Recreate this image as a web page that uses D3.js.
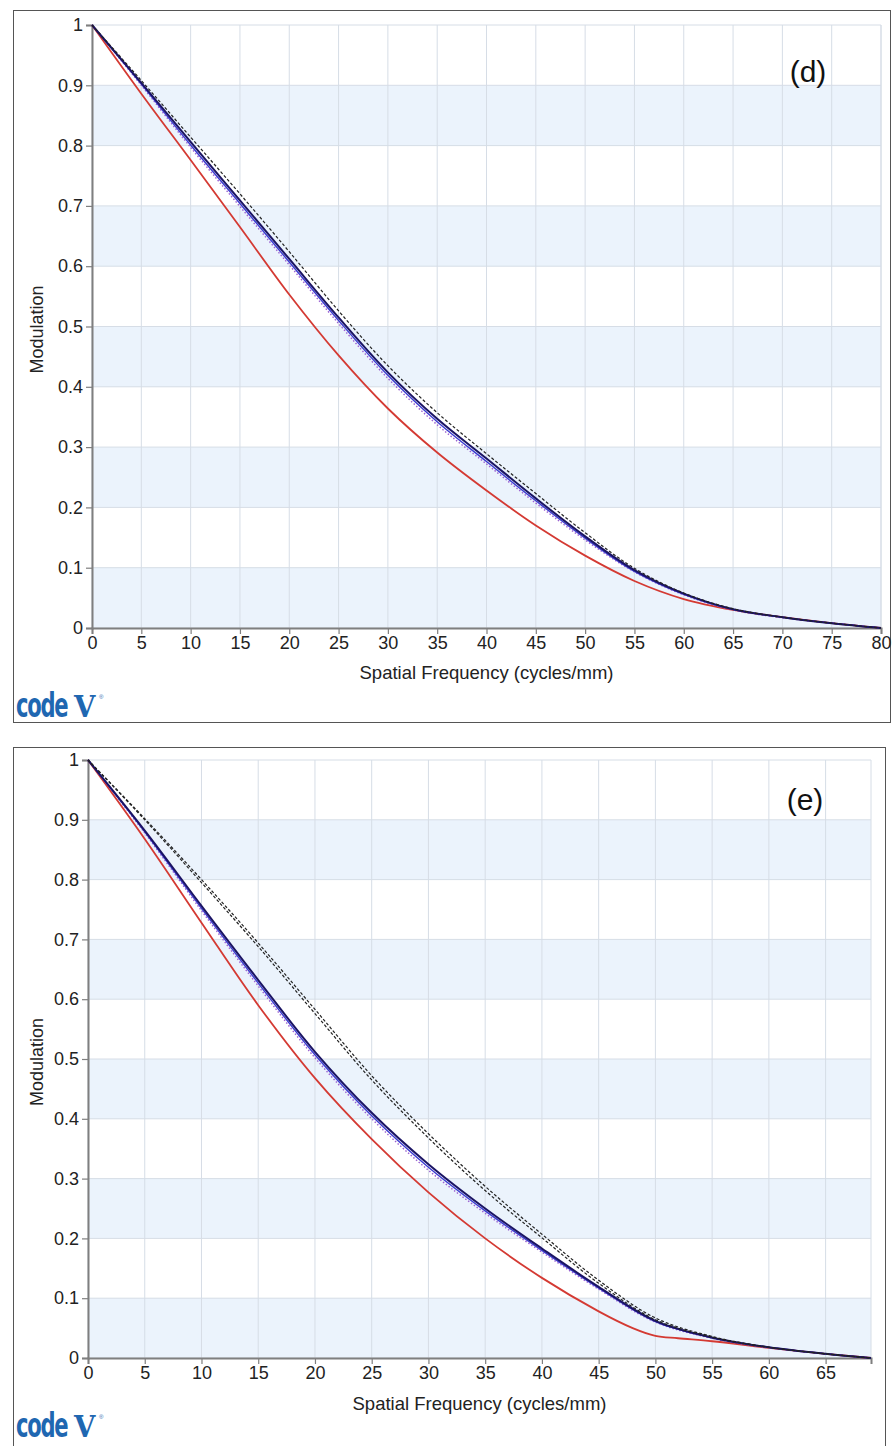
<!DOCTYPE html>
<html>
<head>
<meta charset="utf-8">
<script src="https://cdn.jsdelivr.net/npm/d3@7"></script>
<style>
  body { margin: 0; background: #fff; }
  svg { display: block; font-family: "Liberation Sans", Arial, sans-serif; }
</style>
</head>
<body>
<svg id="chart" width="892" height="1446"></svg>
<script>
// panel (d) data
let dFreq = [0, 5, 10, 15, 20, 25, 30, 35, 40, 45, 50, 55, 60, 65, 70, 75, 80];
let dDashed = [1, 0.908, 0.814, 0.72, 0.624, 0.526, 0.435, 0.357, 0.289, 0.223, 0.158, 0.099, 0.058, 0.032, 0.018, 0.008, 0];
let dNavy = [1, 0.904, 0.806, 0.709, 0.612, 0.515, 0.424, 0.347, 0.281, 0.215, 0.152, 0.096, 0.057, 0.031, 0.018, 0.008, 0];
let dBlue = [1, 0.902, 0.801, 0.704, 0.607, 0.51, 0.419, 0.342, 0.276, 0.211, 0.149, 0.094, 0.056, 0.031, 0.018, 0.008, 0];
let dPurple = [1, 0.9, 0.797, 0.699, 0.602, 0.505, 0.414, 0.337, 0.272, 0.207, 0.146, 0.093, 0.055, 0.03, 0.017, 0.008, 0];
let dRed = [1, 0.886, 0.776, 0.665, 0.553, 0.452, 0.364, 0.291, 0.228, 0.17, 0.12, 0.078, 0.048, 0.03, 0.018, 0.008, 0];

// panel (e) data
let eFreq = [0, 5, 10, 15, 20, 25, 30, 35, 40, 45, 50, 55, 60, 65, 69];
let eDash1 = [1, 0.902, 0.8, 0.694, 0.583, 0.472, 0.375, 0.287, 0.207, 0.13, 0.067, 0.036, 0.018, 0.007, 0];
let eDash2 = [1, 0.9, 0.795, 0.688, 0.576, 0.465, 0.368, 0.28, 0.201, 0.125, 0.064, 0.035, 0.018, 0.007, 0];
let eNavy = [1, 0.882, 0.756, 0.632, 0.512, 0.41, 0.324, 0.25, 0.183, 0.119, 0.062, 0.034, 0.018, 0.007, 0];
let eBlue = [1, 0.88, 0.752, 0.627, 0.507, 0.405, 0.319, 0.246, 0.18, 0.117, 0.061, 0.034, 0.018, 0.007, 0];
let ePurple = [1, 0.878, 0.748, 0.622, 0.502, 0.4, 0.314, 0.242, 0.177, 0.115, 0.06, 0.033, 0.017, 0.007, 0];
let eRedFreq = [0, 5, 10, 15, 20, 25, 30, 35, 40, 45, 48, 50, 52, 55, 60, 65, 69];
let eRed = [1, 0.868, 0.728, 0.59, 0.468, 0.366, 0.277, 0.2, 0.134, 0.078, 0.05, 0.037, 0.033, 0.028, 0.017, 0.007, 0];

let yTicks = [0, 0.1, 0.2, 0.3, 0.4, 0.5, 0.6, 0.7, 0.8, 0.9, 1];

let svg = d3.select("#chart");

// line styles
let styles = {
    dashed: { color: "#222", width: 1.2, dash: "3,2" },
    navy: { color: "#1b1464", width: 2, dash: null },
    blue: { color: "#3a3ad0", width: 1.4, dash: null },
    purple: { color: "#9a5fd0", width: 1.4, dash: "1.5,2" },
    red: { color: "#d43a33", width: 1.8, dash: null }
};

let panels = [
    {
        box: [13, 10, 877, 712], left: 92, right: 881, top: 25, bottom: 628,
        xMax: 80, label: "(d)", labelPos: [808, 82],
        xTitleY: 679, logoY: 717,
        series: [
            { x: dFreq, y: dRed, s: "red" },
            { x: dFreq, y: dPurple, s: "purple" },
            { x: dFreq, y: dBlue, s: "blue" },
            { x: dFreq, y: dNavy, s: "navy" },
            { x: dFreq, y: dDashed, s: "dashed" }
        ]
    },
    {
        box: [13, 747, 872, 710], left: 88, right: 871, top: 760, bottom: 1358,
        xMax: 69, label: "(e)", labelPos: [805, 810],
        xTitleY: 1410, logoY: 1437,
        series: [
            { x: eRedFreq, y: eRed, s: "red" },
            { x: eFreq, y: ePurple, s: "purple" },
            { x: eFreq, y: eBlue, s: "blue" },
            { x: eFreq, y: eNavy, s: "navy" },
            { x: eFreq, y: eDash2, s: "dashed" },
            { x: eFreq, y: eDash1, s: "dashed" }
        ]
    }
];

function drawPanel(p) {
    let g = svg.append("g");

    // outer frame
    g.append("rect")
        .attr("x", p.box[0] + 0.5).attr("y", p.box[1] + 0.5)
        .attr("width", p.box[2]).attr("height", p.box[3])
        .attr("fill", "none").attr("stroke", "#555");

    let x = d3.scaleLinear().domain([0, p.xMax]).range([p.left, p.right]);
    let y = d3.scaleLinear().domain([0, 1]).range([p.bottom, p.top]);

    // alternating bands
    let bands = d3.range(0, 10, 2).map(i => yTicks[i]);
    g.selectAll(".band").data(bands).enter().append("rect")
        .attr("x", p.left).attr("width", p.right - p.left)
        .attr("y", d => y(d + 0.1)).attr("height", d => y(d) - y(d + 0.1))
        .attr("fill", "#ebf3fc");

    // grid
    let xTicks = d3.range(0, p.xMax + 0.1, 5);
    g.selectAll(".vgrid").data(xTicks.concat([p.xMax])).enter().append("line")
        .attr("x1", d => x(d)).attr("x2", d => x(d))
        .attr("y1", p.top).attr("y2", p.bottom)
        .attr("stroke", "#d6dde6").attr("stroke-width", 1);
    g.selectAll(".hgrid").data(yTicks).enter().append("line")
        .attr("x1", p.left).attr("x2", p.right)
        .attr("y1", d => y(d)).attr("y2", d => y(d))
        .attr("stroke", "#d6dde6").attr("stroke-width", 1);

    // axes
    let xAxis = d3.axisBottom(x).tickValues(xTicks).tickSize(6).tickPadding(2).tickFormat(d3.format("d"));
    let yAxis = d3.axisLeft(y).tickValues(yTicks).tickSize(6).tickPadding(3)
        .tickFormat(d => d === 1 ? "1" : d === 0 ? "0" : d3.format(".1f")(d));

    let xg = g.append("g").attr("transform", `translate(0,${p.bottom})`).call(xAxis);
    let yg = g.append("g").attr("transform", `translate(${p.left},0)`).call(yAxis);
    [xg, yg].forEach(a => {
        a.select(".domain").attr("stroke", "#7f7f7f").attr("stroke-width", 2);
        a.selectAll(".tick line").attr("stroke", "#7f7f7f").attr("stroke-width", 1.2);
        a.selectAll(".tick text").attr("fill", "#222").style("font-size", "18px")
            .style("font-family", "'Liberation Sans', Arial, sans-serif");
    });
    xg.selectAll(".tick text").attr("dy", "0.72em");

    // curves
    let line = d3.line().x(d => x(d[0])).y(d => y(d[1])).curve(d3.curveCatmullRom.alpha(0.5));
    p.series.forEach(sr => {
        let st = styles[sr.s];
        let pts = sr.x.map((v, i) => [v, sr.y[i]]);
        g.append("path")
            .attr("d", line(pts))
            .attr("fill", "none")
            .attr("stroke", st.color)
            .attr("stroke-width", st.width)
            .attr("stroke-dasharray", st.dash);
    });

    // titles
    g.append("text")
        .attr("x", (p.left + p.right) / 2).attr("y", p.xTitleY)
        .attr("text-anchor", "middle").style("font-size", "18.5px").attr("fill", "#222")
        .text("Spatial Frequency (cycles/mm)");
    g.append("text")
        .attr("transform", `translate(43,${(p.top + p.bottom) / 2 + 3}) rotate(-90)`)
        .attr("text-anchor", "middle").style("font-size", "18px").attr("fill", "#222")
        .text("Modulation");
    g.append("text")
        .attr("x", p.labelPos[0]).attr("y", p.labelPos[1])
        .attr("text-anchor", "middle").style("font-size", "30px").attr("fill", "#111")
        .text(p.label);

    // code V logo
    let logo = g.append("g").attr("transform", `translate(16,${p.logoY})`).attr("fill", "#1f67b1");
    logo.append("text").text("code")
        .attr("transform", "scale(0.62,1)")
        .style("font-family", "'DejaVu Sans', sans-serif").style("font-weight", "bold")
        .style("font-size", "34px").style("letter-spacing", "-2px");
    logo.append("text").text("V")
        .attr("transform", "translate(58,0) scale(0.95,1)")
        .style("font-family", "'DejaVu Serif', serif").style("font-weight", "bold")
        .style("font-size", "29px");
    logo.append("text").text("®")
        .attr("x", 83).attr("y", -18)
        .style("font-size", "6px");
}

panels.forEach(drawPanel);
</script>
</body>
</html>
